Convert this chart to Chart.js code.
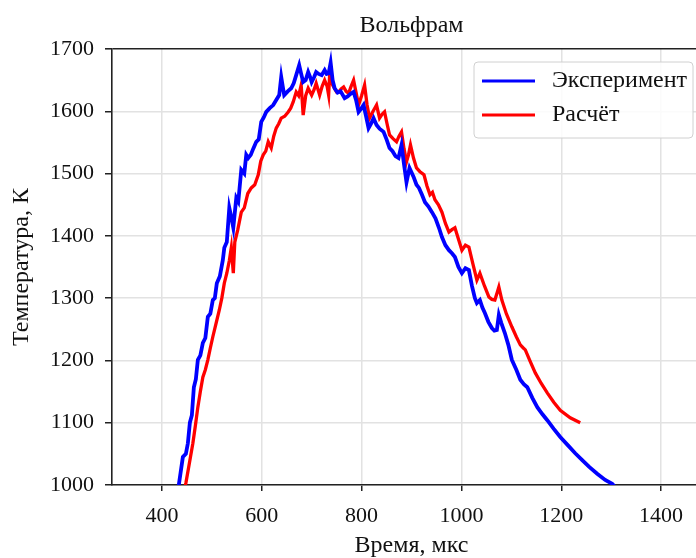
<!DOCTYPE html>
<html>
<head>
<meta charset="utf-8">
<script src="https://cdn.jsdelivr.net/npm/chart.js@4"></script>
<style>
  html,body{margin:0;padding:0;background:#fff;overflow:hidden;}
  #wrap{width:696px;height:558px;overflow:hidden;}
</style>
</head>
<body>
<div id="wrap"><canvas id="myChart" width="711" height="558"></canvas></div>
<script>
// Эксперимент (blue)
var timeExp=[432,442,448,452,456,460,464,468,472,477,482,487,492,497,502,506,510,516,522,525,530,535,539,543,549,553,559,565,569,573,578,583,589,594,599,604,609,616,623,629,635,639,642,645,652,659,664,669,675,679,683,688,693,697,700,705,709,714,720,726,730,734,738,742,746,752,758,766,772,778,784,789,794,799,804,809,814,819,824,830,836,844,850,856,862,868,874,880,885,890,896,904,910,915,921,927,934,941,948,955,961,968,975,981,987,994,1001,1008,1015,1021,1027,1031,1037,1042,1047,1054,1061,1066,1071,1075,1080,1087,1094,1101,1110,1118,1125,1132,1142,1152,1162,1172,1185,1198,1213,1228,1242,1256,1272,1288,1302,1310];
var tempExp=[990,1045,1050,1067,1100,1112,1157,1170,1201,1208,1228,1236,1270,1275,1297,1300,1324,1335,1361,1381,1390,1445,1430,1413,1461,1455,1506,1500,1530,1525,1530,1540,1551,1555,1583,1590,1599,1605,1610,1618,1626,1655,1640,1626,1632,1637,1645,1658,1674,1660,1647,1650,1663,1655,1647,1655,1663,1660,1658,1666,1660,1661,1678,1650,1637,1630,1632,1621,1624,1628,1631,1618,1599,1604,1610,1592,1573,1580,1589,1578,1572,1567,1555,1541,1536,1528,1525,1546,1515,1486,1509,1495,1482,1477,1466,1454,1447,1438,1428,1413,1398,1385,1377,1372,1366,1350,1340,1348,1345,1320,1300,1292,1297,1285,1276,1262,1252,1248,1249,1273,1260,1244,1225,1201,1185,1169,1162,1157,1140,1125,1114,1104,1090,1077,1064,1051,1040,1029,1018,1008,1002,995];

// Расчёт (red)
var timeCalc=[444,448,455,462,467,472,477,482,487,492,497,502,508,515,520,525,530,535,539,543,546,552,559,565,572,579,586,593,598,603,608,613,619,624,629,634,639,646,653,658,663,669,674,679,683,688,693,700,705,709,716,721,726,731,734,736,742,750,754,759,764,769,774,779,784,789,794,800,806,811,816,823,830,836,841,846,851,856,863,870,875,880,885,890,894,898,904,910,917,925,931,937,942,947,954,961,968,975,981,987,994,1001,1008,1015,1023,1031,1037,1046,1055,1061,1067,1072,1075,1081,1090,1101,1110,1118,1124,1128,1138,1148,1160,1172,1185,1198,1218,1238];
var tempCalc=[990,1003,1035,1067,1095,1125,1150,1173,1185,1201,1220,1238,1258,1281,1300,1324,1340,1360,1381,1340,1390,1410,1438,1445,1468,1477,1482,1498,1520,1530,1536,1551,1541,1560,1573,1580,1589,1592,1599,1605,1615,1631,1625,1642,1594,1625,1637,1626,1635,1645,1626,1640,1650,1640,1626,1658,1642,1631,1631,1636,1639,1632,1629,1640,1650,1630,1610,1625,1642,1610,1589,1600,1610,1589,1595,1599,1580,1562,1556,1551,1560,1567,1540,1519,1530,1546,1525,1509,1503,1498,1480,1466,1470,1458,1450,1438,1420,1406,1410,1413,1395,1377,1385,1382,1355,1329,1340,1320,1302,1298,1297,1310,1318,1297,1275,1254,1238,1225,1220,1217,1198,1180,1163,1148,1133,1120,1108,1100];

var labels=["Эксперимент","Расчёт"];
var xTicks=[400,600,800,1000,1200,1400];
var yTicks=[1000,1100,1200,1300,1400,1500,1600,1700];

function toPoints(xs,ys){
  var pts=[];
  for(var i=0;i<xs.length;i++){ pts.push({x:xs[i],y:ys[i]}); }
  return pts;
}

var serif="'Liberation Serif','DejaVu Serif',serif";

// title centred over the plot, legend box in upper right
var extras={
  id:'extras',
  afterDraw:function(chart){
    var c=chart.ctx, a=chart.chartArea;
    c.save();
    c.fillStyle='#111';
    c.font='24px '+serif;
    c.textAlign='center';
    c.textBaseline='middle';
    c.fillText('Вольфрам',(a.left+a.right)/2,26);

    var x=a.left+362, y=a.top+13, w=219, h=76;
    c.beginPath();
    c.roundRect(x,y,w,h,4);
    c.fillStyle='rgba(255,255,255,0.85)';
    c.fill();
    c.strokeStyle='#d0d0d0';
    c.lineWidth=1;
    c.stroke();
    c.font='24px '+serif;
    c.textAlign='left';
    chart.data.datasets.forEach(function(ds,i){
      var ly=y+19+i*34;
      c.strokeStyle=ds.borderColor;
      c.lineWidth=3.2;
      c.beginPath();
      c.moveTo(x+8,ly);
      c.lineTo(x+61,ly);
      c.stroke();
      c.fillStyle='#111';
      c.fillText(ds.label,x+78,ly);
    });
    c.restore();
  }
};

var ctx=document.getElementById('myChart');
new Chart(ctx,{
  type:'line',
  data:{
    datasets:[{
      label:labels[0],
      data:toPoints(timeExp,tempExp),
      borderColor:'#0000ff',
      borderWidth:3.8,
      pointRadius:0,
      tension:0
    },{
      label:labels[1],
      data:toPoints(timeCalc,tempCalc),
      borderColor:'#ff0000',
      borderWidth:3.3,
      pointRadius:0,
      tension:0
    }]
  },
  options:{
    responsive:false,
    animation:false,
    layout:{padding:{top:49}},
    plugins:{
      legend:{display:false},
      tooltip:{enabled:false},
      title:{display:false}
    },
    scales:{
      x:{
        type:'linear',
        min:300,
        max:1500,
        afterFit:function(s){ s.height=73; },
        afterBuildTicks:function(s){ s.ticks=xTicks.map(function(v){return {value:v};}); },
        border:{color:'#222',width:1.6},
        grid:{color:'#e2e2e2',lineWidth:1.5,tickColor:'#222',tickLength:6},
        ticks:{color:'#111',font:{family:serif,size:22},padding:12,maxRotation:0,
          callback:function(v){ return String(v); }},
        title:{display:true,text:'Время, мкс',color:'#111',font:{family:serif,size:24,lineHeight:1},padding:{top:0,bottom:0}}
      },
      y:{
        min:1000,
        max:1700,
        afterFit:function(s){ s.width=112; },
        afterBuildTicks:function(s){ s.ticks=yTicks.map(function(v){return {value:v};}); },
        border:{color:'#222',width:1.6},
        grid:{
          color:function(c){ return c.tick && c.tick.value===1700 ? '#222' : '#e2e2e2'; },
          lineWidth:function(c){ return c.tick && c.tick.value===1700 ? 1.6 : 1.5; },
          tickColor:'#222',
          tickLength:7
        },
        ticks:{color:'#111',font:{family:serif,size:22},padding:11,
          callback:function(v){ return String(v); }},
        title:{display:true,text:'Температура, К',color:'#111',font:{family:serif,size:24,lineHeight:1},padding:{top:10,bottom:0}}
      }
    }
  },
  plugins:[extras]
});
</script>
</body>
</html>
